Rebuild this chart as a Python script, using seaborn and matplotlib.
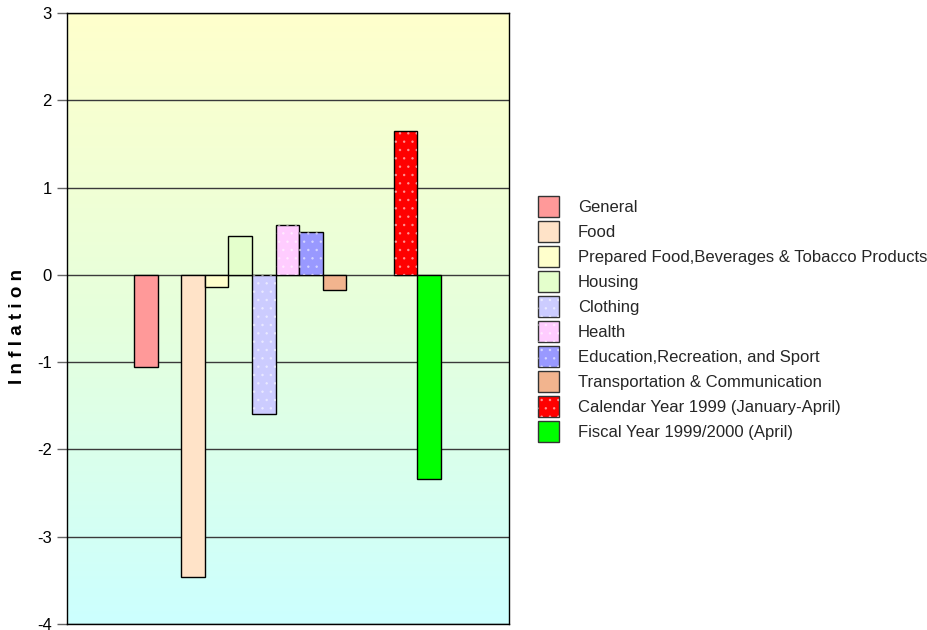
import numpy as np
import pandas as pd
import matplotlib
matplotlib.use("Agg")
import matplotlib.pyplot as plt
from matplotlib.patches import Patch
from matplotlib.legend_handler import HandlerTuple
from matplotlib.colors import LinearSegmentedColormap
import seaborn as sns

# Inflation by component (percent)
categories = [
    "General",
    "Food",
    "Prepared Food,Beverages & Tobacco Products",
    "Housing",
    "Clothing",
    "Health",
    "Education,Recreation, and Sport",
    "Transportation & Communication",
    "Calendar Year 1999 (January-April)",
    "Fiscal Year 1999/2000 (April)",
]
values = [-1.06, -3.46, -0.14, 0.44, -1.59, 0.57, 0.49, -0.17, 1.65, -2.34]
y_ticks = [-4, -3, -2, -1, 0, 1, 2, 3]

colors = ["#FF9999", "#FFE3C8", "#FFFFCC", "#E4FFCC", "#CCCCFF",
          "#FFCCFF", "#9999FF", "#F2B48E", "#FF0000", "#00FF00"]
dotted = {"Clothing", "Health", "Education,Recreation, and Sport",
          "Calendar Year 1999 (January-April)"}

# bar slots: one empty slot after General, two before the annual figures
slots = [0, 2, 3, 4, 5, 6, 7, 8, 11, 12]

df = pd.DataFrame({"slot": slots, "category": categories, "value": values})
palette = dict(zip(categories, colors))

sns.set_theme(style="white")
plt.rcParams["font.family"] = ["Liberation Sans", "DejaVu Sans"]
plt.rcParams["hatch.linewidth"] = 0.6

fig = plt.figure(figsize=(9.27, 6.30), dpi=100)
ax = fig.add_axes([0.0723, 0.0095, 0.4768, 0.97])

xlim = (-3.34, 15.39)
ylim = (-4, 3)

# soft vertical gradient behind the plot
grad = LinearSegmentedColormap.from_list(
    "bg", [(0.0, "#CCFFFF"), (0.5, "#E6FFDC"), (1.0, "#FFFFCC")])
ax.imshow(np.linspace(0, 1, 256).reshape(-1, 1), cmap=grad, aspect="auto",
          extent=[xlim[0], xlim[1], ylim[0], ylim[1]], origin="lower", zorder=0)

for t in y_ticks:
    ax.axhline(t, color="#3a3a3a", lw=1.0, zorder=1)

sns.barplot(data=df, x="slot", y="value", hue="category", palette=palette,
            hue_order=categories, native_scale=True, dodge=False, width=1.0,
            saturation=1, edgecolor="black", linewidth=1.0, legend=False,
            ax=ax, zorder=2)
n_base = len(ax.patches)

# dotted fill on a few series
dot_df = df[df["category"].isin(dotted)]
sns.barplot(data=dot_df, x="slot", y="value", hue="category",
            palette={c: "white" for c in dot_df["category"]},
            native_scale=True, dodge=False, width=1.0, linewidth=0,
            saturation=1, legend=False, ax=ax, zorder=3)
dot_style = dict(facecolor="none", edgecolor=(1, 1, 1, 0.45), hatch="..")
for p in ax.patches[n_base:]:
    p.set_facecolor("none")
    p.set_edgecolor((1, 1, 1, 0.45))
    p.set_linewidth(0)
    p.set_hatch("..")

ax.set_xlim(*xlim)
ax.set_ylim(*ylim)
ax.set_yticks(y_ticks)
ax.set_yticklabels([str(t) for t in y_ticks], fontsize=12, color="black")
ax.set_xticks([])
ax.set_xlabel("")
ax.set_ylabel("")
ax.tick_params(axis="y", which="both", left=True, length=7, width=1,
               color="#666666", pad=4)
for side in ["left", "right", "top", "bottom"]:
    ax.spines[side].set_visible(True)
    ax.spines[side].set_color("black")
    ax.spines[side].set_linewidth(1.0)

fig.text(17.5 / 927, 1 - 326 / 630, "I n f l a t i o n", rotation=90,
         ha="center", va="center", fontsize=13.5, fontweight="bold",
         color="black")

handles = []
for c, col in zip(categories, colors):
    base = Patch(facecolor=col, edgecolor="#333333", linewidth=1.0)
    if c in dotted:
        handles.append((base, Patch(linewidth=0, **dot_style)))
    else:
        handles.append(base)
fig.legend(handles, categories, loc="upper left",
           bbox_to_anchor=(0.580, 0.689), frameon=False, fontsize=12,
           handlelength=1.26, handleheight=1.56, handletextpad=1.14,
           labelspacing=0.24, borderpad=0, borderaxespad=0,
           handler_map={tuple: HandlerTuple(ndivide=1, pad=0)})

fig.savefig("out.png", dpi=100)
